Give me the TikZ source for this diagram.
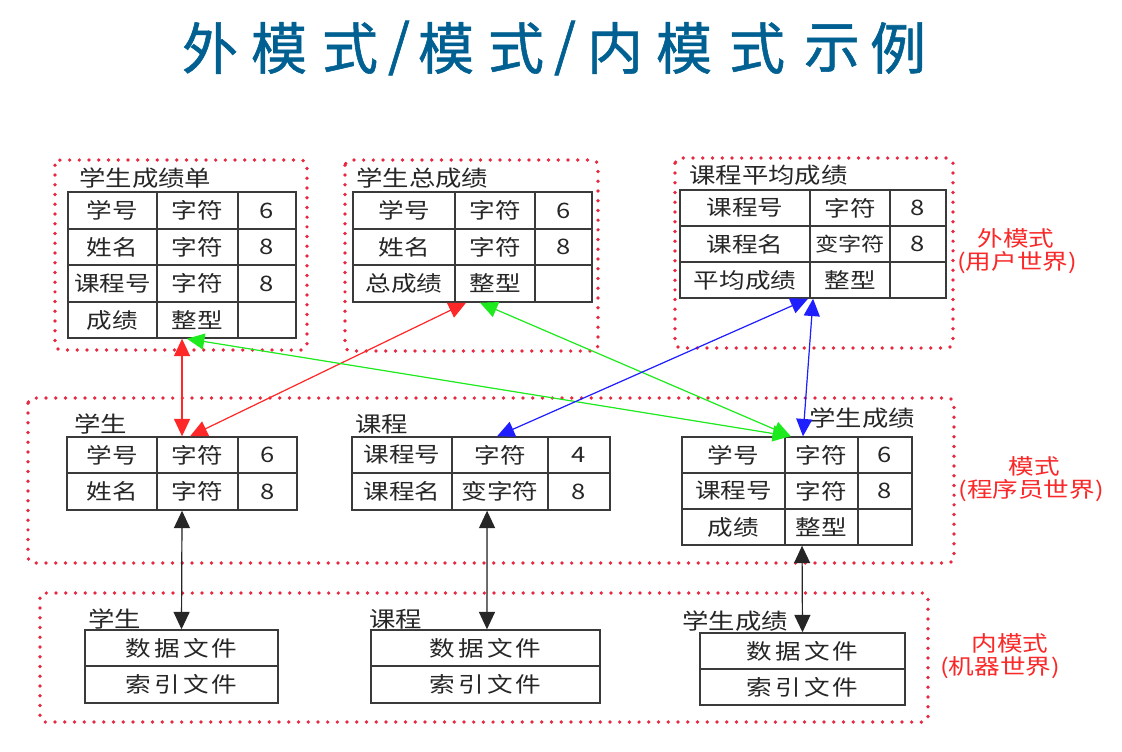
\documentclass[tikz,border=0pt]{standalone}
\usepackage{fontspec}
\setmainfont{Noto Sans CJK SC}[FakeStretch=1.2]
\newfontfamily\titlefont{Noto Sans CJK SC}[FakeBold=1]
\usetikzlibrary{arrows.meta}
\definecolor{framered}{RGB}{232,40,64}
\definecolor{tablegray}{RGB}{58,58,58}
\definecolor{labelred}{RGB}{250,40,40}
\definecolor{titleblue}{RGB}{0,96,145}
\definecolor{arrred}{RGB}{255,40,40}
\definecolor{arrgreen}{RGB}{30,235,30}
\definecolor{arrblue}{RGB}{30,30,255}
\newcommand\cellat[6]{\node[cellst,minimum width={(#4-#2)*0.75pt},minimum height={(#5-#3)*0.75pt}] (#1) at ({(#2+#4)/2},{(#3+#5)/2}) {#6};}
\newcommand\narrow[1]{{\fontsize{14.5}{16}\selectfont #1}}
\begin{document}
\begin{tikzpicture}[x=0.75pt,y=-0.75pt,
  cellst/.style={draw=tablegray,line width=1.1pt,inner sep=0pt,text=black!85,font=\fontsize{16}{18}\selectfont},
  frame/.style={draw=framered,line width=2.8pt,dash pattern=on 0pt off 7.3pt,line cap=round,rounded corners=4pt},
  ttl/.style={anchor=west,inner sep=0pt,text=black!85,font=\fontsize{16.5}{18}\selectfont},
  lbl/.style={inner sep=0pt,text=labelred,font=\fontsize{16}{18}\selectfont},
  tt/.style={inner sep=0pt,text=titleblue,font=\titlefont\fontsize{42}{46}\selectfont},
  arr/.style={{Triangle[length=13pt,width=12pt]}-{Triangle[length=13pt,width=12pt]},line width=0.9pt}]
\fill[white] (0,0) rectangle (1122,751);
\path[use as bounding box] (0,0) rectangle (1122,751);

% title
\node[tt] (h1) at (210,48) {外};
\node[tt] (h2) at (279,48) {模};
\node[tt] (h3) at (350,48) {式};
\node[tt] (h4) at (399,48) {/};
\node[tt] (h5) at (446,48) {模};
\node[tt] (h6) at (516,48) {式};
\node[tt] (h7) at (565,48) {/};
\node[tt] (h8) at (615,48) {内};
\node[tt] (h9) at (684,48) {模};
\node[tt] (h10) at (757,48) {式};
\node[tt] (h11) at (832,48) {示};
\node[tt] (h12) at (898,48) {例};

% frames
\draw[frame] (55,160) rectangle (307,350);
\draw[frame] (345,160) rectangle (598,351);
\draw[frame] (675,158) rectangle (953,348);
\draw[frame] (28,398) rectangle (954,563);
\draw[frame] (40,593) rectangle (928,722);

% external schema tables
\node[ttl] (ta) at (79,178) {学生成绩单};
\cellat{a11}{68}{192}{157}{229}{学号}
\cellat{a12}{157}{192}{238}{229}{字符}
\cellat{a13}{238}{192}{296}{229}{6}
\cellat{a21}{68}{229}{157}{265}{姓名}
\cellat{a22}{157}{229}{238}{265}{字符}
\cellat{a23}{238}{229}{296}{265}{8}
\cellat{a31}{68}{265}{157}{302}{课程号}
\cellat{a32}{157}{265}{238}{302}{字符}
\cellat{a33}{238}{265}{296}{302}{8}
\cellat{a41}{68}{302}{157}{338}{成绩}
\cellat{a42}{157}{302}{238}{338}{整型}
\cellat{a43}{238}{302}{296}{338}{}

\node[ttl] (tb) at (356,178) {学生总成绩};
\cellat{b11}{353}{192}{455}{229}{学号}
\cellat{b12}{455}{192}{535}{229}{字符}
\cellat{b13}{535}{192}{592}{229}{6}
\cellat{b21}{353}{229}{455}{265}{姓名}
\cellat{b22}{455}{229}{535}{265}{字符}
\cellat{b23}{535}{229}{592}{265}{8}
\cellat{b31}{353}{265}{455}{302}{总成绩}
\cellat{b32}{455}{265}{535}{302}{整型}
\cellat{b33}{535}{265}{592}{302}{}

\node[ttl] (tc) at (689,175) {课程平均成绩};
\cellat{c11}{680}{190}{810}{226}{课程号}
\cellat{c12}{810}{190}{890}{226}{字符}
\cellat{c13}{890}{190}{946}{226}{8}
\cellat{c21}{680}{226}{810}{262}{课程名}
\cellat{c22}{810}{226}{890}{262}{\narrow{变字符}}
\cellat{c23}{890}{226}{946}{262}{8}
\cellat{c31}{680}{262}{810}{298}{平均成绩}
\cellat{c32}{810}{262}{890}{298}{整型}
\cellat{c33}{890}{262}{946}{298}{}

\node[lbl] (l1a) at (1016,238) {外模式};
\node[lbl] (l1b) at (1017,263) {(用户世界)};

% conceptual schema tables
\node[ttl] (td) at (74,424) {学生};
\cellat{d11}{67}{437}{157}{473}{学号}
\cellat{d12}{157}{437}{238}{473}{字符}
\cellat{d13}{238}{437}{297}{473}{6}
\cellat{d21}{67}{473}{157}{510}{姓名}
\cellat{d22}{157}{473}{238}{510}{字符}
\cellat{d23}{238}{473}{297}{510}{8}

\node[ttl] (te) at (355,424) {课程};
\cellat{e11}{352}{437}{452}{473}{课程号}
\cellat{e12}{452}{437}{548}{473}{字符}
\cellat{e13}{548}{437}{610}{473}{4}
\cellat{e21}{352}{473}{452}{510}{课程名}
\cellat{e22}{452}{473}{548}{510}{变字符}
\cellat{e23}{548}{473}{610}{510}{8}

\node[ttl] (tf) at (809,418) {学生成绩};
\cellat{f11}{682}{437}{785}{473}{学号}
\cellat{f12}{785}{437}{858}{473}{字符}
\cellat{f13}{858}{437}{912}{473}{6}
\cellat{f21}{682}{473}{785}{509}{课程号}
\cellat{f22}{785}{473}{858}{509}{字符}
\cellat{f23}{858}{473}{912}{509}{8}
\cellat{f31}{682}{509}{785}{545}{成绩}
\cellat{f32}{785}{509}{858}{545}{整型}
\cellat{f33}{858}{509}{912}{545}{}

\node[lbl] (l2a) at (1034,466) {模式};
\node[lbl] (l2b) at (1031,491) {(程序员世界)};

% internal schema
\node[ttl] (tg) at (88,619) {学生};
\cellat{g1}{85}{630}{278}{666}{数\hspace{0.15em}据\hspace{0.15em}文\hspace{0.15em}件}
\cellat{g2}{85}{666}{278}{703}{索\hspace{0.15em}引\hspace{0.15em}文\hspace{0.15em}件}

\node[ttl] (th) at (369,619) {课程};
\cellat{h1c}{371}{630}{600}{666}{数\hspace{0.15em}据\hspace{0.15em}文\hspace{0.15em}件}
\cellat{h2c}{371}{666}{600}{703}{索\hspace{0.15em}引\hspace{0.15em}文\hspace{0.15em}件}

\node[ttl] (ti) at (682,621) {学生成绩};
\cellat{i1}{700}{633}{905}{669}{数\hspace{0.15em}据\hspace{0.15em}文\hspace{0.15em}件}
\cellat{i2}{700}{669}{905}{705}{索\hspace{0.15em}引\hspace{0.15em}文\hspace{0.15em}件}

\node[lbl] (l3a) at (1010,643) {内模式};
\node[lbl] (l3b) at (1000,668) {(机器世界)};

% mappings external <-> conceptual
\draw[arr,draw=arrred,fill=arrred] ([xshift=-11.6pt]a42.south) -- ([xshift=-11.6pt]d12.north);
\draw[arr,draw=arrred,fill=arrred] ([xshift=-21.7pt]b32.south) -- ([xshift=-5.6pt]d12.north);
\draw[arr,draw=arrgreen,fill=arrgreen] ([xshift=-7.9pt]a42.south) -- ([xshift=-23.6pt]f12.north);
\draw[arr,draw=arrgreen,fill=arrgreen] ([xshift=-11.2pt]b32.south) -- ([xshift=-23pt]f12.north);
\draw[arr,draw=arrblue,fill=arrblue] ([xshift=-31.5pt]c32.south) -- ([xshift=-2.2pt]e12.north);
\draw[arr,draw=arrblue,fill=arrblue] ([xshift=-27.7pt]c32.south) -- ([xshift=-13.9pt]f12.north);

% mappings conceptual <-> internal
\draw[arr,draw=black!85,fill=black!85] ([xshift=-11.6pt]d22.south) -- (g1.north);
\draw[arr,draw=black!85,fill=black!85] ([xshift=-9.7pt]e22.south) -- ([xshift=1.1pt]h1c.north);
\draw[arr,draw=black!85,fill=black!85] ([xshift=-14.6pt]f32.south) -- (i1.north);
\end{tikzpicture}
\end{document}
